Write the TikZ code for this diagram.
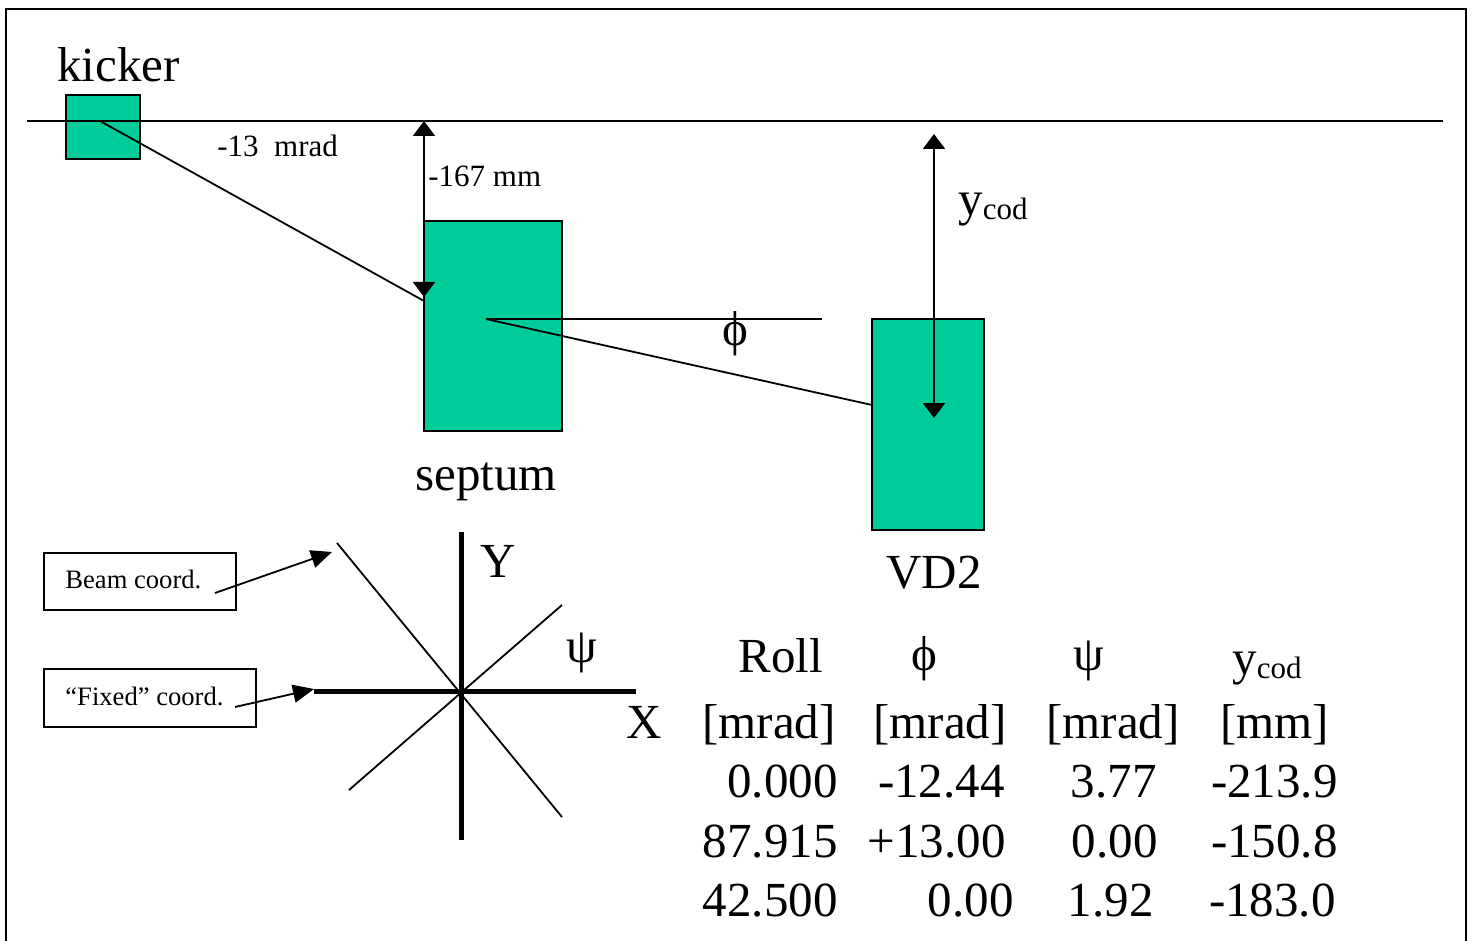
\documentclass[tikz,border=0pt]{standalone}
\usepackage{fontspec}
\setmainfont{Liberation Serif}
\usetikzlibrary{arrows.meta}
\definecolor{magnet}{RGB}{0,204,153}
\newcommand{\bigfont}{\fontsize{24.5}{28}\selectfont}
\newcommand{\subfont}{\fontsize{15.5}{18}\selectfont}
\newcommand{\ycodtxt}{y\raisebox{-2pt}{\subfont cod}}
\begin{document}
\begin{tikzpicture}[x=0.5pt,y=-0.5pt,
  big/.style={font=\bigfont, inner sep=0},
  small/.style={font=\fontsize{15.5}{19}\selectfont, inner sep=0},
  tiny/.style={font=\fontsize{13.3}{16}\selectfont, inner sep=0},
  magnetbox/.style={draw=black, line width=1pt, fill=magnet, inner sep=0},
  calloutbox/.style={draw=black, line width=0.9pt, fill=white, inner sep=0},
  frameline/.style={line width=1.3pt},
  beamline/.style={line width=1pt},
  fineline/.style={line width=0.9pt},
  axisline/.style={line width=2.5pt},
  dimarrow/.style={line width=1pt, {Triangle[length=7.5pt,width=11pt]}-{Triangle[length=7.5pt,width=11pt]}},
  callarrow/.style={line width=0.9pt, -{Triangle[length=10.5pt,width=9pt]}},
]
\useasboundingbox (0,0) rectangle (1473,941);
% frame
\coordinate (f1) at (6,941); \coordinate (f2) at (6,9);
\coordinate (f3) at (1466,9); \coordinate (f4) at (1466,941);
\draw[frameline] (f1) -- (f2) -- (f3) -- (f4);

% magnets
\node[magnetbox, minimum width=37pt, minimum height=32pt] (kicker) at (103,127) {};
\node[magnetbox, minimum width=69pt, minimum height=105pt] (septum) at (493,326) {};
\node[magnetbox, minimum width=56pt, minimum height=105.5pt] (vd2) at (928,424.5) {};

% beam line and trajectories
\coordinate (bl) at (27,121); \coordinate (br) at (1443,121);
\draw[beamline] (bl) -- (br);
\coordinate (kp) at (100,121); \coordinate (kend) at (424,301);
\draw[fineline] (kp) -- (kend);
\coordinate (sc) at (486,319); \coordinate (phiend) at (822,319);
\coordinate (vin) at (872,405);
\draw[fineline] (sc) -- (phiend);
\draw[fineline] (sc) -- (vin);

% dimension arrows
\coordinate (dtop) at (424,121); \coordinate (dbot) at (424,297);
\draw[dimarrow] (dtop) -- (dbot);
\coordinate (ytop) at (934,134); \coordinate (ybot) at (934,418);
\draw[dimarrow] (ytop) -- (ybot);

% labels
\node[big, anchor=base west] (kickerlabel) at (57,82) {kicker};
\node[small, anchor=base west] (kicklabel) at (217,157) {-13\ \ mrad};
\node[small, anchor=base west] (distlabel) at (428,187) {-167 mm};
\node[big, anchor=base] (philabel) at (735,345) {ϕ};
\node[big, anchor=base west] (ycodlabel) at (958,216) {\ycodtxt};
\node[big, anchor=base] (septumlabel) at (486,490) {septum};
\node[big, anchor=base] (vd2label) at (934,588) {VD2};

% axes
\coordinate (ya) at (461,532); \coordinate (yb) at (461,840);
\coordinate (xa) at (314,691); \coordinate (xb) at (636,691);
\draw[axisline] (ya) -- (yb);
\draw[axisline] (xa) -- (xb);
\coordinate (d1a) at (337,543); \coordinate (d1b) at (562,817);
\coordinate (d2a) at (349,790); \coordinate (d2b) at (562,605);
\draw[fineline] (d1a) -- (d1b);
\draw[fineline] (d2a) -- (d2b);
\node[big, anchor=base west] (Ylabel) at (480,577) {Y};
\node[big, anchor=base west] (Xlabel) at (626,738) {X};
\node[big, anchor=base] (psilabel) at (582,662) {ψ};

% callouts
\node[calloutbox, minimum width=96pt, minimum height=28.5pt] (beambox) at (140,581.5) {};
\node[tiny, anchor=base west] (beamtext) at (65,588) {Beam coord.};
\coordinate (bs) at (215,593); \coordinate (bt) at (332,552);
\draw[callarrow] (bs) -- (bt);
\node[calloutbox, minimum width=106pt, minimum height=29pt] (fixbox) at (150,698) {};
\node[tiny, anchor=base west] (fixtext) at (65,705) {“Fixed” coord.};
\coordinate (fs) at (235,707); \coordinate (ft) at (314,689);
\draw[callarrow] (fs) -- (ft);

% table
\node[big, anchor=base west] (h1) at (738,672) {Roll};
\node[big, anchor=base] (h2) at (924,670) {ϕ};
\node[big, anchor=base] (h3) at (1089,670) {ψ};
\node[big, anchor=base west] (h4) at (1232,674) {\ycodtxt};

\node[big, anchor=base west] (u1) at (702,738) {[mrad]};
\node[big, anchor=base west] (u2) at (873,738) {[mrad]};
\node[big, anchor=base west] (u3) at (1046,738) {[mrad]};
\node[big, anchor=base west] (u4) at (1220,738) {[mm]};

\node[big, anchor=base east] (a1) at (838,797) {0.000};
\node[big, anchor=base east] (a2) at (1005,797) {-12.44};
\node[big, anchor=base east] (a3) at (1157,797) {3.77};
\node[big, anchor=base east] (a4) at (1338,797) {-213.9};

\node[big, anchor=base east] (b1) at (838,857) {87.915};
\node[big, anchor=base east] (b2) at (1006,857) {+13.00};
\node[big, anchor=base east] (b3) at (1158,857) {0.00};
\node[big, anchor=base east] (b4) at (1338,857) {-150.8};

\node[big, anchor=base east] (c1) at (838,916) {42.500};
\node[big, anchor=base east] (c2) at (1014,916) {0.00};
\node[big, anchor=base east] (c3) at (1154,916) {1.92};
\node[big, anchor=base east] (c4) at (1336,916) {-183.0};
\end{tikzpicture}
\end{document}
